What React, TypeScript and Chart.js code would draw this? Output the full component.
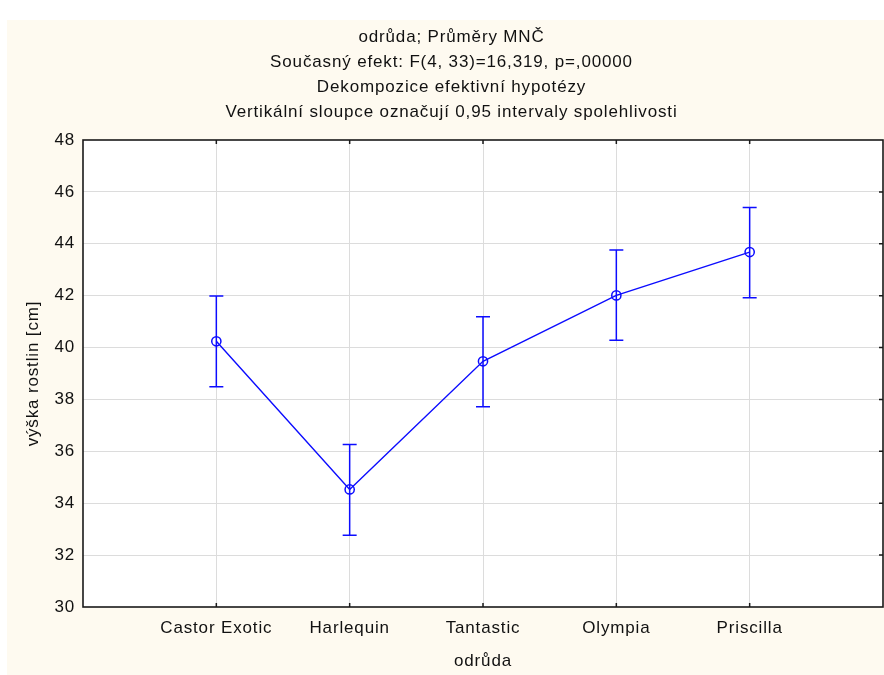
import React, { useEffect, useRef } from 'react';
import { Chart, registerables } from 'chart.js';

Chart.register(...registerables);

const titleLines = [
  'odrůda; Průměry MNČ',
  'Současný efekt: F(4, 33)=16,319, p=,00000',
  'Dekompozice efektivní hypotézy',
  'Vertikální sloupce označují 0,95 intervaly spolehlivosti',
];
const categories = ['Castor Exotic', 'Harlequin', 'Tantastic', 'Olympia', 'Priscilla'];
const means = [40.24, 34.53, 39.47, 42.01, 43.68];
const lower = [38.49, 32.77, 37.72, 40.28, 41.92];
const upper = [41.99, 36.26, 41.19, 43.76, 45.4];
const yMin = 30;
const yMax = 48;
const yStep = 2;
const xAxisTitle = 'odrůda';
const yAxisTitle = 'výška rostlin [cm]';

const FONT = '"Liberation Sans", Arial, sans-serif';
const TEXT = '#111111';
const BLUE = '#0c0cff';
const GRID = '#dcdcdc';
const SPACING = '0.85px';

export default function App() {
  const ref = useRef<HTMLCanvasElement>(null);

  useEffect(() => {
    if (!ref.current) return;

    const spacingPlugin = {
      id: 'spacingPlugin',
      beforeUpdate(chart: any) {
        chart.ctx.letterSpacing = SPACING;
      },
      beforeLayout(chart: any) {
        chart.ctx.letterSpacing = SPACING;
      },
      beforeDraw(chart: any) {
        chart.ctx.letterSpacing = SPACING;
      },
    };

    const bgPlugin = {
      id: 'bgPlugin',
      beforeDraw(chart: any) {
        const ctx = chart.ctx;
        const a = chart.chartArea;
        ctx.save();
        ctx.fillStyle = '#fefaf0';
        ctx.fillRect(7, 20, chart.width - 7, chart.height - 20);
        ctx.fillStyle = '#ffffff';
        ctx.fillRect(a.left, a.top, a.right - a.left, a.bottom - a.top);
        ctx.restore();
      },
    };

    const errorBarPlugin = {
      id: 'errorBarPlugin',
      beforeDatasetsDraw(chart: any) {
        const ctx = chart.ctx;
        const xs = chart.scales.x;
        const ys = chart.scales.y;
        ctx.save();
        ctx.strokeStyle = BLUE;
        ctx.lineWidth = 1.5;
        for (let i = 0; i < means.length; i++) {
          const x = xs.getPixelForValue(i + 1);
          const yl = ys.getPixelForValue(lower[i]);
          const yu = ys.getPixelForValue(upper[i]);
          ctx.beginPath();
          ctx.moveTo(x, yl);
          ctx.lineTo(x, yu);
          ctx.moveTo(x - 7, yl);
          ctx.lineTo(x + 7, yl);
          ctx.moveTo(x - 7, yu);
          ctx.lineTo(x + 7, yu);
          ctx.stroke();
        }
        ctx.restore();
      },
    };

    const framePlugin = {
      id: 'framePlugin',
      afterDraw(chart: any) {
        const ctx = chart.ctx;
        const a = chart.chartArea;
        const xs = chart.scales.x;
        const ys = chart.scales.y;
        ctx.save();
        ctx.strokeStyle = '#1a1a1a';
        ctx.lineWidth = 1.5;
        ctx.beginPath();
        for (let i = 0; i < categories.length; i++) {
          const x = xs.getPixelForValue(i + 1);
          ctx.moveTo(x, a.bottom);
          ctx.lineTo(x, a.bottom - 4);
          ctx.moveTo(x, a.top);
          ctx.lineTo(x, a.top + 4);
        }
        for (let v = yMin + yStep; v < yMax; v += yStep) {
          const y = ys.getPixelForValue(v);
          ctx.moveTo(a.right, y);
          ctx.lineTo(a.right - 4, y);
        }
        ctx.stroke();
        ctx.lineWidth = 1.6;
        ctx.strokeRect(a.left, a.top, a.right - a.left, a.bottom - a.top);
        ctx.restore();
      },
    };

    const chart = new Chart(ref.current, {
      type: 'line',
      data: {
        datasets: [
          {
            data: means.map((m, i) => ({ x: i + 1, y: m })),
            borderColor: BLUE,
            borderWidth: 1.4,
            pointRadius: 4.6,
            pointBorderWidth: 1.5,
            pointBorderColor: BLUE,
            pointBackgroundColor: 'rgba(0,0,0,0)',
            pointStyle: 'circle',
            tension: 0,
            fill: false,
          },
        ],
      },
      options: {
        animation: false,
        responsive: false,
        maintainAspectRatio: false,
        layout: { autoPadding: false, padding: { left: 20, top: 20, right: 1, bottom: 0 } },
        plugins: {
          legend: { display: false },
          tooltip: { enabled: false },
          title: {
            display: true,
            text: titleLines,
            color: TEXT,
            font: { family: FONT, size: 17, weight: 'normal', lineHeight: 25 / 17 },
            padding: { top: 4.5, bottom: 15.5 },
          },
        },
        scales: {
          x: {
            type: 'linear',
            min: 0,
            max: categories.length + 1,
            afterFit: (s: any) => {
              s.height = 68;
              s.paddingLeft = 0;
              s.paddingRight = 0;
            },
            ticks: {
              stepSize: 1,
              autoSkip: false,
              maxRotation: 0,
              color: TEXT,
              font: { family: FONT, size: 17 },
              padding: 11,
              callback: (v: any) => categories[Number(v) - 1] ?? '',
            },
            grid: {
              drawTicks: false,
              lineWidth: 1,
              color: (c: any) =>
                c.tick && (c.tick.value <= 0 || c.tick.value >= categories.length + 1) ? 'rgba(0,0,0,0)' : GRID,
            },
            border: { display: false },
            title: {
              display: true,
              text: xAxisTitle,
              color: TEXT,
              font: { family: FONT, size: 17 },
              padding: { top: 0, bottom: 3 },
            },
          },
          y: {
            type: 'linear',
            min: yMin,
            max: yMax,
            afterFit: (s: any) => {
              s.width = 63;
              s.paddingTop = 0;
              s.paddingBottom = 0;
            },
            ticks: {
              stepSize: yStep,
              color: TEXT,
              font: { family: FONT, size: 17 },
              padding: 8,
            },
            grid: {
              drawTicks: false,
              lineWidth: 1,
              color: (c: any) =>
                c.tick && (c.tick.value <= yMin || c.tick.value >= yMax) ? 'rgba(0,0,0,0)' : GRID,
            },
            border: { display: false },
            title: {
              display: true,
              text: yAxisTitle,
              color: TEXT,
              font: { family: FONT, size: 17 },
              padding: { top: 3, bottom: 0 },
            },
          },
        },
      },
      plugins: [spacingPlugin, bgPlugin, errorBarPlugin, framePlugin],
    } as any);

    return () => chart.destroy();
  }, []);

  return (
    <div style={{ position: 'fixed', left: 0, top: 0, width: 884, height: 675 }}>
      <canvas ref={ref} width={884} height={675} style={{ display: 'block', width: 884, height: 675 }} />
    </div>
  );
}
